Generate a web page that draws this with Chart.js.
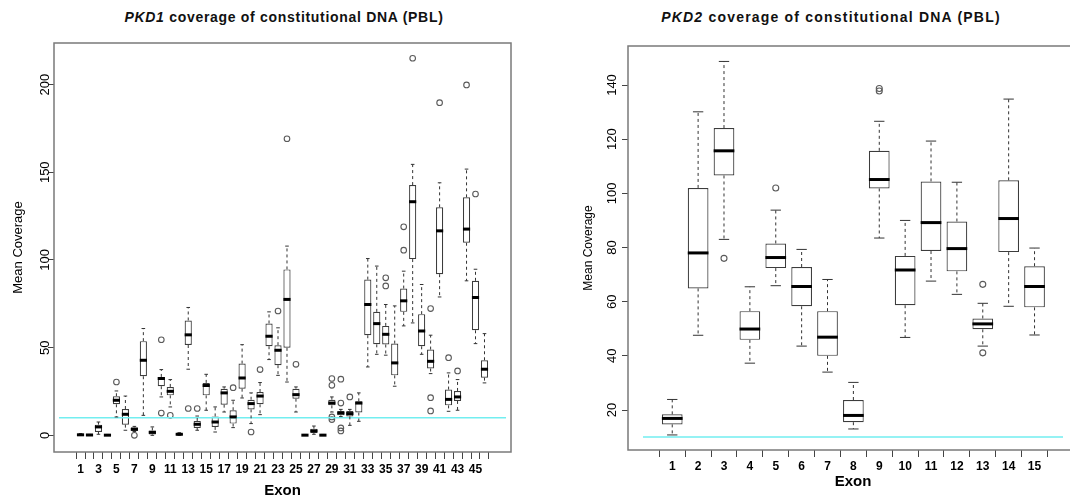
<!DOCTYPE html>
<html lang="en">
<head>
  <meta charset="UTF-8">
  <title>PKD1 / PKD2 coverage of constitutional DNA</title>
  <script src="https://cdn.jsdelivr.net/npm/chart.js"></script>
  <style>
    body {
      margin: 0;
      width: 1070px;
      height: 500px;
      overflow: hidden;
      background: #ffffff;
      font-family: "Liberation Sans", Arial, sans-serif;
    }
    .panel {
      position: absolute;
      top: 0;
      height: 500px;
    }
    .title {
      position: absolute;
      top: 9px;
      line-height: 17px;
      font-size: 14px;
      font-weight: bold;
      text-align: center;
      color: #111;
      white-space: nowrap;
    }
  </style>
</head>
<body>
  <div class="title" style="left:0; width:568px; letter-spacing:0.7px;"><i>PKD1</i> coverage of constitutional DNA (PBL)</div>
  <div class="title" style="left:581px; width:500px; letter-spacing:1.2px;"><i>PKD2</i> coverage of constitutional DNA (PBL)</div>

  <div class="panel" style="left:0; width:535px;"><canvas id="pkd1"></canvas></div>
  <div class="panel" style="left:540px; width:550px;"><canvas id="pkd2"></canvas></div>

  <script>
    // PKD1 exons (46) - box stats
    const pkd1Exons = Array.from({ length: 46 }, (_, i) => i + 1);
    const pkd1Low    = [0, 0, 0.6, 0, 10.5, 2.9, 2.2, 11.4, 0, 21.9, 16.2, 0, 37.7, 2.9, 14.3, 1.9, 13.3, 4.4, 21.3, 6.7, 11.8, 43.2, 34.2, 30.4, 13.3, 0, 0.6, 0, 13.3, 10.7, 5.7, 8.0, 39.0, 46.2, 45.7, 28.0, 62.4, 64.1, 46.2, 35.2, 78.9, 13.7, 14.3, 88.1, 52.3, 29.9];
    const pkd1Q1     = [0.1, 0, 1.9, 0, 17.7, 6.1, 2.7, 33.7, 0.5, 28.0, 22.8, 0.2, 51.5, 4.2, 22.8, 4.8, 17.5, 6.7, 26.6, 14.8, 17.7, 50.8, 40.0, 49.9, 20.9, 0, 1.3, 0, 17.1, 11.4, 10.8, 13.0, 57.1, 51.9, 51.8, 34.2, 70.4, 100.5, 50.8, 38.1, 91.9, 17.1, 19.6, 109.8, 59.9, 32.9];
    const pkd1Median = [0.3, 0.2, 4.8, 0.1, 20.0, 12.0, 3.4, 42.8, 1.7, 32.4, 25.1, 0.6, 57.3, 6.3, 28.4, 7.6, 24.2, 10.5, 32.7, 18.1, 22.4, 56.5, 48.5, 77.5, 23.2, 0.1, 2.5, 0.1, 18.4, 12.7, 12.4, 18.4, 74.6, 63.7, 57.6, 41.3, 76.7, 133.2, 59.5, 42.2, 116.6, 20.5, 21.9, 117.6, 78.6, 37.7];
    const pkd1Q3     = [0.5, 0.3, 6.1, 0.3, 22.3, 15.0, 4.6, 53.7, 2.8, 33.3, 27.6, 1.0, 65.5, 8.2, 29.9, 10.8, 26.6, 14.3, 40.9, 20.3, 24.7, 63.8, 51.4, 94.6, 26.6, 0.3, 3.8, 0.3, 20.3, 13.9, 13.9, 19.4, 88.8, 70.4, 62.4, 52.3, 83.7, 142.7, 69.1, 48.9, 130.0, 26.1, 25.3, 135.7, 88.1, 42.8];
    const pkd1High   = [1.0, 0.5, 7.6, 0.5, 25.3, 22.4, 5.1, 60.9, 4.8, 37.5, 31.8, 1.5, 72.9, 11.0, 34.8, 16.2, 27.6, 20.0, 51.7, 24.2, 30.1, 70.4, 61.3, 107.9, 27.6, 0.5, 5.3, 0.5, 21.9, 14.8, 14.8, 24.2, 100.8, 96.5, 74.6, 73.8, 93.6, 154.5, 86.0, 57.1, 144.0, 35.6, 31.8, 151.8, 94.7, 58.0];
    const pkd1OutlierExon  = [5, 7, 10, 10, 11, 13, 14, 18, 20, 21, 23, 24, 25, 29, 29, 29, 29, 30, 30, 30, 30, 31, 35, 35, 37, 37, 38, 40, 40, 40, 41, 42, 43, 44, 45];
    const pkd1OutlierValue = [30.4, 0, 54.5, 12.7, 11.4, 15.3, 15.3, 27.2, 1.9, 37.5, 70.9, 169.1, 40.5, 32.4, 28.5, 10.5, 9.0, 32.0, 18.4, 4.2, 2.5, 21.9, 89.8, 85.2, 118.9, 105.6, 215.0, 72.3, 21.5, 13.9, 189.7, 44.3, 36.7, 199.8, 137.6];
    const pkd1YTicks = [0, 50, 100, 150, 200];

    // PKD2 exons (15)
    const pkd2Exons = Array.from({ length: 15 }, (_, i) => i + 1);
    const pkd2Low    = [10.8, 47.6, 83.0, 37.3, 65.9, 43.6, 34.0, 13.0, 83.5, 46.8, 67.6, 62.7, 43.6, 58.3, 47.7];
    const pkd2Q1     = [14.7, 64.9, 106.6, 45.9, 72.4, 58.3, 40.0, 15.5, 101.8, 58.7, 78.7, 71.2, 49.8, 78.3, 57.9];
    const pkd2Median = [16.9, 78.0, 115.7, 49.9, 76.3, 65.6, 46.9, 18.0, 105.1, 71.7, 89.2, 79.6, 51.8, 90.7, 65.6];
    const pkd2Q3     = [18.4, 102.0, 124.1, 56.5, 81.5, 72.8, 56.5, 23.7, 115.7, 76.9, 104.4, 89.6, 53.8, 104.8, 73.1];
    const pkd2High   = [23.9, 130.1, 148.7, 65.5, 93.8, 79.3, 68.2, 30.2, 126.6, 90.0, 119.3, 104.1, 59.4, 134.8, 79.8];
    const pkd2OutlierExon  = [3, 5, 9, 9, 13, 13];
    const pkd2OutlierValue = [76.0, 102.0, 138.7, 137.8, 66.4, 41.1];
    const pkd2YTicks = [20, 40, 60, 80, 100, 120, 140];

    // minimum coverage threshold (cyan line)
    const coverageThreshold = 10;

    Chart.defaults.font.family = '"Liberation Sans", Arial, sans-serif';
    Chart.defaults.color = '#000';

    // whiskers, caps and median bars drawn on top of the floating-bar boxes
    function whiskerPlugin(low, median, high) {
      return {
        id: 'whiskers',
        afterDatasetsDraw(chart) {
          const ctx = chart.ctx;
          const y = chart.scales.y;
          const area = chart.chartArea;
          const meta = chart.getDatasetMeta(2);
          const q1 = chart.data.datasets[2].data.map(d => d.y[0]);
          const q3 = chart.data.datasets[2].data.map(d => d.y[1]);
          ctx.save();
          ctx.beginPath();
          ctx.rect(area.left, area.top, area.right - area.left, area.bottom - area.top);
          ctx.clip();
          meta.data.forEach((bar, i) => {
            const x = bar.x;
            const half = bar.width / 2;
            const yLow = y.getPixelForValue(low[i]);
            const yHigh = y.getPixelForValue(high[i]);
            const yQ1 = y.getPixelForValue(q1[i]);
            const yQ3 = y.getPixelForValue(q3[i]);
            const yMed = y.getPixelForValue(median[i]);
            ctx.strokeStyle = '#333';
            ctx.lineWidth = 1;
            // dashed whiskers
            ctx.setLineDash([3, 3]);
            ctx.beginPath();
            ctx.moveTo(x, yQ3); ctx.lineTo(x, yHigh);
            ctx.moveTo(x, yQ1); ctx.lineTo(x, yLow);
            ctx.stroke();
            ctx.setLineDash([]);
            // staples
            ctx.beginPath();
            ctx.moveTo(x - half / 2, yHigh); ctx.lineTo(x + half / 2, yHigh);
            ctx.moveTo(x - half / 2, yLow); ctx.lineTo(x + half / 2, yLow);
            ctx.stroke();
            // median
            ctx.strokeStyle = '#000';
            ctx.lineWidth = 3;
            ctx.beginPath();
            ctx.moveTo(x - half, yMed); ctx.lineTo(x + half, yMed);
            ctx.stroke();
          });
          ctx.restore();
        }
      };
    }

    // grey frame round the plot region
    const framePlugin = {
      id: 'frame',
      afterDraw(chart) {
        const { ctx, chartArea: a } = chart;
        ctx.save();
        ctx.strokeStyle = '#7a7a7a';
        ctx.lineWidth = 1.5;
        ctx.strokeRect(a.left, a.top, a.right - a.left, a.bottom - a.top);
        ctx.restore();
      }
    };

    function makeBoxChart(id, cfg) {
      const boxes = cfg.exons.map((x, i) => ({ x: x, y: [cfg.q1[i], cfg.q3[i]] }));
      const outliers = cfg.outlierExon.map((x, i) => ({ x: x, y: cfg.outlierValue[i] }));
      const threshold = [{ x: cfg.xMin, y: coverageThreshold }, { x: cfg.xMax, y: coverageThreshold }];

      return new Chart(document.getElementById(id), {
        type: 'bar',
        data: {
          datasets: [
            {
              type: 'line',
              data: threshold,
              borderColor: '#72eef0',
              borderWidth: 1.5,
              pointRadius: 0,
              order: 0
            },
            {
              type: 'scatter',
              data: outliers,
              pointStyle: 'circle',
              pointRadius: cfg.outlierRadius,
              borderColor: '#5a5a5a',
              borderWidth: 1.1,
              backgroundColor: 'rgba(0,0,0,0)',
              order: 1
            },
            {
              type: 'bar',
              data: boxes,
              backgroundColor: '#ffffff',
              borderColor: '#3c3c3c',
              borderWidth: 1.2,
              borderSkipped: false,
              barPercentage: 0.8,
              categoryPercentage: 1,
              order: 2
            }
          ]
        },
        options: {
          responsive: true,
          maintainAspectRatio: false,
          animation: false,
          events: [],
          layout: { padding: cfg.padding },
          plugins: {
            legend: { display: false },
            tooltip: { enabled: false }
          },
          scales: {
            x: {
              type: 'linear',
              min: cfg.xMin,
              max: cfg.xMax,
              afterBuildTicks: (scale) => { scale.ticks = cfg.exons.map(v => ({ value: v })); },
              afterFit: (scale) => { scale.height = cfg.xHeight; },
              border: { display: false },
              grid: { drawOnChartArea: false, tickLength: 7, tickColor: '#444', tickWidth: 1 },
              ticks: {
                autoSkip: false,
                maxRotation: 0,
                minRotation: 0,
                padding: cfg.xTickPad,
                font: { size: 12, weight: 'bold' },
                callback: cfg.xLabel
              },
              title: {
                display: true,
                text: 'Exon',
                font: { size: 15, weight: 'bold' },
                padding: { top: 0, bottom: cfg.xTitlePad }
              }
            },
            y: {
              type: 'linear',
              min: cfg.yMin,
              max: cfg.yMax,
              afterBuildTicks: (scale) => { scale.ticks = cfg.yTicks.map(v => ({ value: v })); },
              afterFit: (scale) => { scale.width = cfg.yWidth; },
              border: { display: false },
              grid: { drawOnChartArea: false, tickLength: 6, tickColor: '#444', tickWidth: 1 },
              ticks: {
                minRotation: 90,
                maxRotation: 90,
                crossAlign: 'center',
                padding: cfg.yTickPad,
                font: { size: 13 }
              },
              title: {
                display: true,
                text: 'Mean Coverage',
                font: { size: cfg.yTitleSize },
                padding: { top: cfg.yTitlePad, bottom: 0 }
              }
            }
          }
        },
        plugins: [whiskerPlugin(cfg.low, cfg.median, cfg.high), framePlugin]
      });
    }

    makeBoxChart('pkd1', {
      exons: pkd1Exons, low: pkd1Low, q1: pkd1Q1, median: pkd1Median, q3: pkd1Q3, high: pkd1High,
      outlierExon: pkd1OutlierExon, outlierValue: pkd1OutlierValue, outlierRadius: 2.8,
      xMin: -1.4, xMax: 48.4, yMin: -9.5, yMax: 223.7, yTicks: pkd1YTicks,
      padding: { top: 43, right: 24, left: 0, bottom: 0 },
      xHeight: 48, yWidth: 54, xTickPad: 3, xTitlePad: 0, yTickPad: -8,
      yTitleSize: 13, yTitlePad: 11,
      xLabel: (v) => (v % 2 === 1 ? String(v) : '')
    });

    makeBoxChart('pkd2', {
      exons: pkd2Exons, low: pkd2Low, q1: pkd2Q1, median: pkd2Median, q3: pkd2Q3, high: pkd2High,
      outlierExon: pkd2OutlierExon, outlierValue: pkd2OutlierValue, outlierRadius: 3,
      xMin: -0.13, xMax: 16.1, yMin: 5.24, yMax: 154.4, yTicks: pkd2YTicks,
      padding: { top: 46, right: 12, left: 0, bottom: 0 },
      xHeight: 50, yWidth: 88, xTickPad: 2, xTitlePad: 9, yTickPad: -1,
      yTitleSize: 12, yTitlePad: 41,
      xLabel: (v) => String(v)
    });
  </script>
</body>
</html>
